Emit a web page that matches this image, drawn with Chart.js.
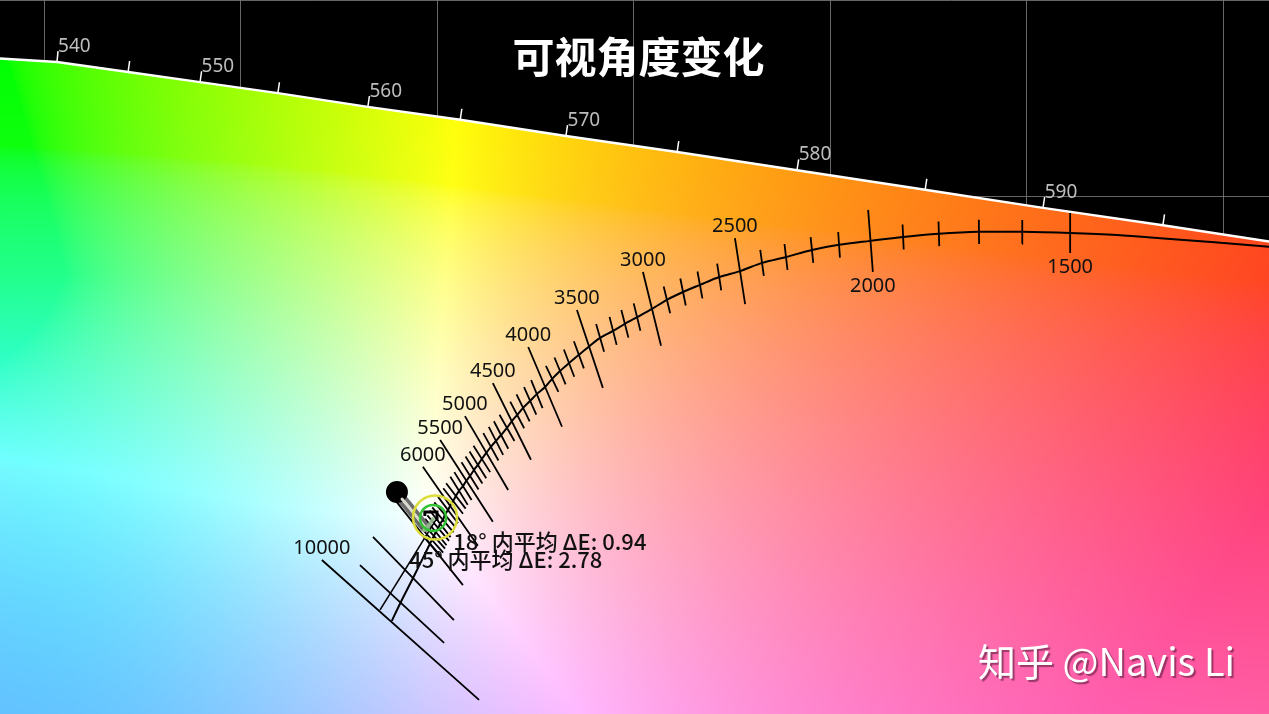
<!DOCTYPE html>
<html>
<head>
<meta charset="utf-8">
<script src="https://cdn.jsdelivr.net/npm/chart.js@4.4.1/dist/chart.umd.min.js"></script>
<style>
  html, body { margin: 0; padding: 0; background: #000; }
  #wrap { width: 1269px; height: 714px; }
</style>
</head>
<body>
<div id="wrap"><canvas id="chart" width="1269" height="714"></canvas></div>
<script>
// CIE 1976 u'v'

// spectral locus (nm)
const wavelengths = [530, 540, 545, 550, 555, 560, 565, 570, 575, 580, 585, 590, 595, 600]
const spectralU = [0.0786, 0.1033, 0.1214, 0.1397, 0.1595, 0.1824, 0.2059, 0.2328, 0.2611, 0.2916, 0.3242, 0.3542, 0.3847, 0.4158]
const spectralV = [0.5858, 0.5842, 0.5817, 0.5791, 0.5763, 0.5728, 0.5695, 0.5654, 0.5613, 0.5567, 0.5517, 0.5471, 0.5427, 0.5379]

// planckian locus, below 1500 K (no ticks)
const warmTailU = [0.4247, 0.4117, 0.3840, 0.3730]
const warmTailV = [0.5359, 0.5372, 0.5394, 0.5402]

// planckian locus with ticks
const cctKelvin = [
  1500, 1600, 1700, 1800, 1900, 2000, 2100, 2200, 2300, 2400,
  2500, 2600, 2700, 2800, 2900, 3000, 3100, 3200, 3300, 3400,
  3500, 3600, 3700, 3800, 3900, 4000, 4100, 4200, 4300, 4400,
  4500, 4600, 4700, 4800, 4900, 5000, 5100, 5200, 5300, 5400,
  5500, 5600, 5700, 5800, 5900, 6000, 6100, 6200, 6300, 6400,
  6500, 6600, 6700, 6800, 6900, 7000, 8000, 9000, 10000
]
const planckU = [
  0.3611, 0.3489, 0.3379, 0.3277, 0.3186, 0.3102, 0.3023, 0.2954, 0.2888, 0.2827,
  0.2771, 0.2718, 0.2669, 0.2626, 0.2585, 0.2547, 0.2509, 0.2478, 0.2448, 0.2415,
  0.2389, 0.2361, 0.2336, 0.2313, 0.2293, 0.2275, 0.2254, 0.2237, 0.2219, 0.2204,
  0.2191, 0.2178, 0.2163, 0.2150, 0.2137, 0.2125, 0.2114, 0.2104, 0.2094, 0.2084,
  0.2074, 0.2066, 0.2056, 0.2048, 0.2041, 0.2033, 0.2028, 0.2020, 0.2015, 0.2008,
  0.2003, 0.1997, 0.1992, 0.1987, 0.1982, 0.1977, 0.1939, 0.1908, 0.1885
]
const planckV = [
  0.5407, 0.5410, 0.5410, 0.5405, 0.5397, 0.5387, 0.5377, 0.5364, 0.5346, 0.5331,
  0.5310, 0.5295, 0.5275, 0.5257, 0.5237, 0.5214, 0.5193, 0.5176, 0.5158, 0.5140,
  0.5120, 0.5097, 0.5076, 0.5056, 0.5036, 0.5015, 0.4997, 0.4980, 0.4962, 0.4944,
  0.4929, 0.4911, 0.4893, 0.4878, 0.4863, 0.4847, 0.4832, 0.4817, 0.4804, 0.4789,
  0.4776, 0.4763, 0.4751, 0.4738, 0.4725, 0.4712, 0.4702, 0.4690, 0.4677, 0.4667,
  0.4656, 0.4646, 0.4636, 0.4626, 0.4616, 0.4606, 0.4529, 0.4468, 0.4420
]

// long isotherms: both ends
const isoKelvin = [1500, 2000, 2500, 3000, 3500, 4000, 4500, 5000, 5500, 6000, 7000, 8000, 9000, 10000]
const isoLabelled = [1500, 2000, 2500, 3000, 3500, 4000, 4500, 5000, 5500, 6000, 10000]
const isoTopU = [0.3611, 0.3097, 0.2758, 0.2524, 0.2356, 0.2232, 0.2142, 0.2071, 0.2008, 0.1964, 0.1893, 0.1837, 0.1804, 0.1707]
const isoTopV = [0.5458, 0.5466, 0.5394, 0.5308, 0.5211, 0.5117, 0.5025, 0.4941, 0.4880, 0.4812, 0.4728, 0.4634, 0.4562, 0.4575]
const isoBottomU = [0.3611, 0.3109, 0.2784, 0.2570, 0.2422, 0.2318, 0.2239, 0.2181, 0.2142, 0.2104, 0.2066, 0.2043, 0.2018, 0.2107]
const isoBottomV = [0.5356, 0.5308, 0.5226, 0.5120, 0.5013, 0.4914, 0.4830, 0.4753, 0.4672, 0.4611, 0.4511, 0.4422, 0.4364, 0.4219]

// daylight locus
const daylightU = [0.1997, 0.1926, 0.1855]
const daylightV = [0.4677, 0.4562, 0.4448]

// measured white point across viewing angle
const traceU = [0.1898, 0.1911, 0.1924, 0.1936, 0.1949, 0.1959, 0.1969]
const traceV = [0.4748, 0.4730, 0.4715, 0.4700, 0.4684, 0.4672, 0.4659]
const tailU = [0.1967, 0.1980, 0.1990]
const tailV = [0.4651, 0.4664, 0.4679]
const markU = [0.1969, 0.1969, 0.2000, 0.2000]
const markV = [0.4687, 0.4697, 0.4697, 0.4674]

// averages within viewing angle
const viewAngles = [18, 45]
const meanDeltaE = [0.94, 2.78]
const ringU = [0.1990, 0.1995]
const ringV = [0.4682, 0.4683]
const noteU = [0.2041, 0.1929]
const noteV = [0.4601, 0.4555]

const gridU = [0.10, 0.15, 0.20, 0.25, 0.30, 0.35, 0.40]
const gridV = [0.45, 0.50, 0.55, 0.60]

const pts = (us, vs) => us.map((u, i) => ({ x: u, y: vs[i] }))
const GAP = { x: null, y: null }

// isotherm segments
const longIso = []
isoKelvin.forEach((t, i) => {
  longIso.push({ x: isoTopU[i], y: isoTopV[i] }, { x: isoBottomU[i], y: isoBottomV[i] }, GAP)
})
// short ticks get a bit longer towards the blue end
const tickHalf = t => 0.0020 + 0.0000003 * (t - 1500)
const shortIso = []
cctKelvin.forEach((t, i) => {
  if (isoKelvin.includes(t) || t > 7000) return
  const a = Math.max(i - 1, 0), b = Math.min(i + 1, cctKelvin.length - 1)
  // perpendicular in CIE 1960 uv (v = 2/3 v')
  const du = planckU[b] - planckU[a]
  const dv = ( planckV[b] - planckV[a] ) * 2 / 3
  const len = Math.hypot( du, dv )
  const nu = -dv / len, nv = du / len
  const h = tickHalf(t)
  shortIso.push(
    { x: planckU[i] + nu * h, y: planckV[i] + nv * h * 1.5 },
    { x: planckU[i] - nu * h, y: planckV[i] - nv * h * 1.5 },
    GAP
  )
})

const locus = pts(warmTailU, warmTailV).concat(pts(planckU, planckV))

function gammaEncode(c) {
  return c <= 0.0031308 ? 12.92 * c : 1.055 * Math.pow(c, 1 / 2.4) - 0.055
}

// background: chromaticity colours, D65 white, a little softened
const whiteU = 0.1978, whiteV = 0.4683
function paintColours(chart) {
  const { chartArea: area, scales: { x, y } } = chart
  const w = Math.round(area.right - area.left), h = Math.round(area.bottom - area.top)
  const cv = document.createElement('canvas')
  cv.width = w; cv.height = h
  const c2 = cv.getContext('2d')
  const img = c2.createImageData(w, h)
  const u0 = x.getValueForPixel(area.left), u1 = x.getValueForPixel(area.right)
  const v0 = y.getValueForPixel(area.top), v1 = y.getValueForPixel(area.bottom)
  for (let j = 0; j < h; j++) {
    const v = v0 + (v1 - v0) * (j + 0.5) / h
    const depth = Math.min(1, Math.max(0, (v0 - v) / (v0 - v1)))
    const white = 0.11 * depth * depth
    const f = Math.min(1, Math.max(0, (0.53 - v) / 0.05))
    for (let i = 0; i < w; i++) {
      const u = u0 + (u1 - u0) * (i + 0.5) / w
      let uc = u, vc = v
      const du = u - whiteU
      if (du < 0) {
        const s = Math.min(1, -du / 0.109)
        uc = whiteU + du * (1 - (0.3 + 0.25 * f) * s)
        vc = v - 0.028 * s * f
      }
      const d = 6 * uc - 16 * vc + 12
      const cx = 9 * uc / d, cy = 4 * vc / d
      const X = cx / cy, Y = 1, Z = (1 - cx - cy) / cy
      let r = 3.2406 * X - 1.5372 * Y - 0.4986 * Z
      let g = -0.9689 * X + 1.8758 * Y + 0.0415 * Z
      let b = 0.0557 * X - 0.2040 * Y + 1.0570 * Z
      r = Math.max(r, 0); g = Math.max(g, 0); b = Math.max(b, 0)
      const m = Math.max(r, g, b)
      r = r / m * (1 - white) + white
      g = g / m * (1 - white) + white
      b = b / m * (1 - white) + white
      const k = (j * w + i) * 4
      img.data[k] = 255 * gammaEncode(r)
      img.data[k + 1] = 255 * gammaEncode(g)
      img.data[k + 2] = 255 * gammaEncode(b)
      img.data[k + 3] = 255
    }
  }
  c2.putImageData(img, 0, 0)
  return cv
}

const diagram = {
  id: 'diagram',
  beforeDraw(chart) {
    const { ctx, width, height } = chart
    ctx.save()
    ctx.fillStyle = '#000'
    ctx.fillRect(0, 0, width, height)
    ctx.restore()
  },
  beforeDatasetsDraw(chart) {
    const { ctx, chartArea, scales: { x, y } } = chart
    if (!chart.$colours) chart.$colours = paintColours(chart)
    ctx.save()
    ctx.beginPath()
    wavelengths.forEach((w, i) => {
      const px = x.getPixelForValue(spectralU[i]), py = y.getPixelForValue(spectralV[i])
      i ? ctx.lineTo(px, py) : ctx.moveTo(px, py)
    })
    ctx.lineTo(x.getPixelForValue(spectralU[spectralU.length - 1]), chartArea.bottom + 2)
    ctx.lineTo(x.getPixelForValue(spectralU[0]), chartArea.bottom + 2)
    ctx.closePath()
    ctx.clip()
    ctx.drawImage(chart.$colours, chartArea.left, chartArea.top)
    ctx.restore()
  },
  afterDatasetsDraw(chart) {
    const { ctx, width, scales: { x, y } } = chart
    ctx.save()

    // wavelength ticks and labels
    ctx.strokeStyle = '#fff'
    ctx.lineWidth = 1.5
    ctx.fillStyle = '#bdbdbd'
    ctx.font = '19px "Noto Sans", "Open Sans", sans-serif'
    ctx.textAlign = 'left'
    ctx.textBaseline = 'alphabetic'
    wavelengths.forEach((w, i) => {
      if (w < 540 || w > 595) return
      const px = x.getPixelForValue(spectralU[i]), py = y.getPixelForValue(spectralV[i])
      const qx = x.getPixelForValue(spectralU[i + 1]) - x.getPixelForValue(spectralU[i - 1])
      const qy = y.getPixelForValue(spectralV[i + 1]) - y.getPixelForValue(spectralV[i - 1])
      const l = Math.hypot(qx, qy)
      const tx = px + qy / l * 11, ty = py - qx / l * 11
      ctx.beginPath()
      ctx.moveTo(px, py)
      ctx.lineTo(tx, ty)
      ctx.stroke()
      if (w % 10 === 0) ctx.fillText(String(w), tx, ty + 1)
    })

    // colour temperature labels
    ctx.fillStyle = '#111'
    ctx.font = '20px "Noto Sans", "Open Sans", sans-serif'
    ctx.textAlign = 'center'
    isoKelvin.forEach((t, i) => {
      if (!isoLabelled.includes(t)) return
      if (t < 2500) {
        ctx.fillText(String(t), x.getPixelForValue(isoBottomU[i]), y.getPixelForValue(isoBottomV[i]) + 20)
      } else {
        ctx.fillText(String(t), x.getPixelForValue(isoTopU[i]), y.getPixelForValue(isoTopV[i]) - 6)
      }
    })

    // mean delta E notes
    ctx.font = '500 22px "Noto Sans CJK SC", sans-serif'
    ctx.textAlign = 'left'
    viewAngles.forEach((a, i) => {
      ctx.fillText(a + '° 内平均 ΔE: ' + meanDeltaE[i].toFixed(2), x.getPixelForValue(noteU[i]), y.getPixelForValue(noteV[i]))
    })

    // title
    ctx.fillStyle = '#fff'
    ctx.font = 'bold 42px "Noto Sans CJK SC", sans-serif'
    ctx.textAlign = 'center'
    ctx.textBaseline = 'middle'
    ctx.fillText('可视角度变化', width / 2 + 4, 57)

    // watermark
    ctx.font = '38px "Noto Sans CJK SC", sans-serif'
    ctx.textAlign = 'right'
    ctx.textBaseline = 'alphabetic'
    ctx.shadowColor = 'rgba(70, 20, 50, 0.55)'
    ctx.shadowOffsetX = 2
    ctx.shadowOffsetY = 2
    ctx.shadowBlur = 1
    ctx.fillText('知乎 @Navis Li', width - 34, 676)
    ctx.restore()
  }
}

const setTicks = values => axis => { axis.ticks = values.map(v => ({ value: v })) }

new Chart(document.getElementById('chart'), {
  type: 'scatter',
  data: {
    datasets: [
      {
        label: '18°',
        data: [{ x: ringU[0], y: ringV[0] }],
        pointRadius: 13,
        pointBorderWidth: 2.5,
        pointBorderColor: '#33c233',
        pointBackgroundColor: 'rgba(0,0,0,0)',
        order: 0
      },
      {
        label: '45°',
        data: [{ x: ringU[1], y: ringV[1] }],
        pointRadius: 22,
        pointBorderWidth: 2.5,
        pointBorderColor: '#dcdc3a',
        pointBackgroundColor: 'rgba(0,0,0,0)',
        order: 0
      },
      {
        label: 'mark',
        type: 'line',
        data: pts(markU, markV),
        borderColor: '#000',
        borderWidth: 3,
        pointRadius: 0,
        order: 1
      },
      {
        label: 'tail',
        type: 'line',
        data: pts(tailU, tailV),
        borderColor: 'rgba(150, 185, 140, 0.9)',
        borderWidth: 4,
        borderCapStyle: 'round',
        pointRadius: 0,
        order: 2
      },
      {
        label: 'trace inner',
        type: 'line',
        data: pts(traceU, traceV).slice(1),
        borderColor: 'rgba(225, 225, 215, 0.95)',
        borderWidth: 3,
        borderCapStyle: 'round',
        pointRadius: 0,
        order: 2
      },
      {
        label: 'trace',
        type: 'line',
        data: pts(traceU, traceV),
        borderColor: 'rgba(100, 100, 100, 0.95)',
        borderWidth: 10,
        borderCapStyle: 'round',
        pointRadius: [6, 0, 0, 0, 0, 0, 0],
        pointBackgroundColor: '#000',
        pointBorderColor: '#000',
        order: 3
      },
      {
        label: 'long isotherms',
        type: 'line',
        data: longIso,
        borderColor: '#000',
        borderWidth: 1.8,
        pointRadius: 0,
        spanGaps: false,
        order: 5
      },
      {
        label: 'short isotherms',
        type: 'line',
        data: shortIso,
        borderColor: '#000',
        borderWidth: 1.8,
        pointRadius: 0,
        spanGaps: false,
        order: 5
      },
      {
        label: 'daylight locus',
        type: 'line',
        data: pts(daylightU, daylightV),
        borderColor: '#000',
        borderWidth: 1.6,
        pointRadius: 0,
        order: 6
      },
      {
        label: 'planckian locus',
        type: 'line',
        data: locus,
        borderColor: '#000',
        borderWidth: 2,
        tension: 0.3,
        pointRadius: 0,
        order: 6
      },
      {
        label: 'spectral locus',
        type: 'line',
        data: pts(spectralU, spectralV),
        borderColor: '#fff',
        borderWidth: 2.5,
        pointRadius: 0,
        order: 7
      }
    ]
  },
  options: {
    responsive: false,
    animation: false,
    events: [],
    devicePixelRatio: 1,
    layout: { padding: 0, autoPadding: false },
    plugins: { legend: { display: false }, tooltip: { enabled: false } },
    scales: {
      x: {
        type: 'linear',
        min: 0.0888,
        max: 0.4117,
        afterBuildTicks: setTicks(gridU),
        ticks: { display: false },
        border: { display: false },
        grid: { color: 'rgba(120,120,120,0.85)', lineWidth: 1, drawTicks: false }
      },
      y: {
        type: 'linear',
        min: 0.4183,
        max: 0.60,
        afterBuildTicks: setTicks(gridV),
        ticks: { display: false },
        border: { display: false },
        grid: { color: 'rgba(120,120,120,0.85)', lineWidth: 1, drawTicks: false }
      }
    }
  },
  plugins: [diagram]
})
</script>
</body>
</html>
